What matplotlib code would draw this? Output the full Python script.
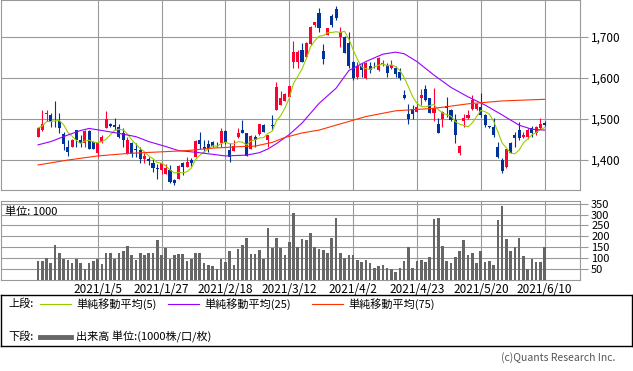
import numpy as np
import pandas as pd
import matplotlib
matplotlib.use("Agg")
import matplotlib.pyplot as plt
from matplotlib.lines import Line2D

plt.rcParams['font.family'] = ['Noto Sans CJK JP', 'DejaVu Sans']

# daily candles, 2020/12/14 .. 2021/6/10 (120 trading days)
opens = [1457, 1472, 1513, 1510, 1505, 1494, 1463, 1433, 1433, 1472,
         1450, 1441, 1471, 1445, 1418, 1445, 1479, 1488, 1486, 1481,
         1465, 1415, 1442, 1428, 1424, 1403, 1403, 1392, 1381, 1376,
         1367, 1376, 1351, 1355, 1394, 1384, 1400, 1408, 1449, 1433,
         1439, 1444, 1440, 1441, 1471, 1424, 1423, 1455, 1473, 1465,
         1427, 1457, 1463, 1485, 1449, 1486, 1522, 1534, 1545, 1554,
         1640, 1640, 1667, 1650, 1683, 1729, 1758, 1666, 1705, 1752,
         1767, 1701, 1701, 1686, 1640, 1603, 1628, 1599, 1628, 1632,
         1620, 1634, 1632, 1624, 1624, 1615, 1559, 1512, 1525, 1518,
         1550, 1572, 1550, 1514, 1489, 1499, 1531, 1522, 1497, 1416,
         1494, 1502, 1524, 1524, 1530, 1510, 1482, 1481, 1433, 1400,
         1382, 1441, 1461, 1473, 1455, 1455, 1479, 1467, 1477, 1491]
highs = [1480, 1522, 1522, 1514, 1544, 1514, 1469, 1449, 1452, 1473,
         1461, 1472, 1472, 1446, 1442, 1461, 1519, 1490, 1503, 1489,
         1477, 1457, 1443, 1441, 1431, 1416, 1408, 1402, 1390, 1393,
         1391, 1388, 1355, 1388, 1396, 1408, 1404, 1449, 1469, 1449,
         1448, 1447, 1444, 1477, 1473, 1441, 1449, 1477, 1498, 1466,
         1460, 1461, 1489, 1487, 1462, 1510, 1589, 1569, 1563, 1581,
         1690, 1668, 1685, 1687, 1726, 1737, 1770, 1682, 1721, 1756,
         1776, 1724, 1703, 1713, 1642, 1640, 1636, 1640, 1640, 1640,
         1650, 1644, 1636, 1644, 1628, 1624, 1571, 1536, 1534, 1538,
         1572, 1582, 1551, 1575, 1502, 1519, 1554, 1524, 1513, 1436,
         1512, 1522, 1559, 1539, 1563, 1512, 1483, 1502, 1445, 1404,
         1427, 1445, 1469, 1493, 1469, 1477, 1482, 1482, 1502, 1496]
lows = [1455, 1470, 1494, 1481, 1481, 1467, 1424, 1410, 1431, 1433,
        1433, 1433, 1427, 1427, 1408, 1441, 1478, 1480, 1472, 1454,
        1433, 1414, 1408, 1408, 1392, 1393, 1388, 1372, 1355, 1366,
        1365, 1343, 1338, 1354, 1363, 1383, 1386, 1407, 1428, 1420,
        1420, 1433, 1433, 1433, 1440, 1396, 1421, 1454, 1465, 1410,
        1426, 1433, 1461, 1469, 1433, 1473, 1521, 1533, 1543, 1553,
        1624, 1624, 1640, 1648, 1681, 1725, 1713, 1633, 1704, 1725,
        1741, 1676, 1660, 1624, 1595, 1598, 1602, 1597, 1612, 1624,
        1618, 1628, 1602, 1622, 1602, 1595, 1548, 1488, 1499, 1516,
        1535, 1545, 1514, 1494, 1466, 1480, 1504, 1496, 1441, 1412,
        1480, 1500, 1522, 1522, 1504, 1481, 1479, 1457, 1406, 1369,
        1381, 1416, 1433, 1449, 1453, 1452, 1457, 1461, 1476, 1484]
closes = [1478, 1488, 1515, 1494, 1504, 1479, 1439, 1420, 1450, 1450,
          1442, 1471, 1428, 1428, 1441, 1457, 1499, 1484, 1480, 1455,
          1449, 1449, 1415, 1424, 1402, 1411, 1398, 1381, 1379, 1392,
          1380, 1347, 1345, 1386, 1384, 1396, 1393, 1447, 1438, 1427,
          1428, 1435, 1439, 1471, 1445, 1408, 1435, 1465, 1465, 1410,
          1458, 1449, 1488, 1469, 1461, 1484, 1577, 1550, 1561, 1580,
          1664, 1664, 1640, 1686, 1725, 1737, 1721, 1647, 1721, 1729,
          1745, 1713, 1660, 1628, 1600, 1628, 1620, 1636, 1620, 1631,
          1648, 1636, 1613, 1632, 1610, 1599, 1551, 1500, 1512, 1530,
          1559, 1547, 1515, 1526, 1467, 1518, 1526, 1498, 1461, 1434,
          1502, 1510, 1546, 1537, 1510, 1486, 1481, 1461, 1408, 1373,
          1426, 1416, 1453, 1453, 1461, 1473, 1467, 1481, 1489, 1485]
volume = [88, 88, 103, 80, 160, 126, 95, 91, 77, 98,
          77, 49, 77, 88, 95, 72, 126, 126, 98, 126,
          132, 154, 114, 91, 126, 114, 126, 126, 183, 114,
          145, 98, 114, 117, 117, 86, 98, 123, 123, 80,
          69, 62, 49, 98, 83, 132, 68, 142, 160, 191,
          118, 118, 137, 98, 237, 145, 191, 145, 114, 172,
          308, 149, 188, 183, 215, 149, 142, 137, 126, 191,
          284, 126, 103, 114, 114, 91, 83, 91, 77, 54,
          63, 68, 54, 49, 37, 54, 88, 149, 54, 88,
          93, 83, 105, 281, 284, 157, 88, 77, 105, 133,
          183, 114, 123, 77, 133, 83, 88, 71, 276, 340,
          188, 133, 151, 193, 108, 52, 96, 83, 83, 149]

# moving averages (day index, value)
ma25_day = [0, 3, 7, 10, 12, 15, 19, 23, 26, 30, 33, 37, 41, 44, 49, 52, 54,
            56, 59, 62, 66, 70, 73, 77, 81, 84, 86, 89, 93, 97, 101, 105,
            109, 113, 116, 119]
ma25_val = [1437, 1445, 1461, 1472, 1477, 1472, 1465, 1457, 1445, 1433, 1423,
            1419, 1414, 1410, 1412, 1418, 1427, 1440, 1462, 1490, 1538, 1575,
            1618, 1640, 1658, 1663, 1659, 1640, 1607, 1577, 1554, 1534, 1510,
            1485, 1475, 1473]
ma75_day = [0, 7, 14, 21, 29, 35, 41, 48, 51, 55, 58, 62, 66, 70, 77, 84,
            93, 101, 109, 119]
ma75_val = [1388, 1400, 1410, 1416, 1420, 1423, 1429, 1433, 1434, 1443, 1455,
            1466, 1473, 1485, 1506, 1520, 1526, 1537, 1544, 1548]

tick_day = [14, 29, 44, 59, 74, 89, 104, 119]
tick_labels = ["2021/1/5", "2021/1/27", "2021/2/18", "2021/3/12",
               "2021/4/2", "2021/4/23", "2021/5/20", "2021/6/10"]

UP = "#ff0033"
DOWN = "#003399"
GRID = "#999999"

df = pd.DataFrame({"o": opens, "h": highs, "l": lows, "c": closes, "v": volume})
df["ma5"] = df["c"].rolling(5, min_periods=1).mean()
x = np.arange(len(df))
up = df["c"] >= df["o"]
col = np.where(up, UP, DOWN)

W, H = 633, 371
fig = plt.figure(figsize=(W / 100, H / 100), dpi=100)


def box(l, t, r, b):
    return [l / W, 1 - b / H, (r - l) / W, (b - t) / H]


ax = fig.add_axes(box(1, 0, 580, 190))
axv = fig.add_axes(box(1, 201, 580, 280))
xlim = (-8.7, 127.3)

# price panel
ax.vlines(x, df["l"], df["h"], colors=col, lw=0.8, zorder=3)
body_lo = np.minimum(df["o"], df["c"])
body_h = np.maximum(np.abs(df["c"] - df["o"]), 1.2)
ax.bar(x, body_h, bottom=body_lo, width=0.72, color=col, lw=0, zorder=4)
ax.plot(x, df["ma5"], color="#99cc00", lw=0.8, zorder=5)
ax.plot(ma25_day, ma25_val, color="#9900ff", lw=0.8, zorder=5)
ax.plot(ma75_day, ma75_val, color="#ff3300", lw=0.8, zorder=5)
ax.set_xlim(*xlim)
ax.set_ylim(1327, 1790)
ax.set_xticks(tick_day)
ax.set_yticks([1400, 1500, 1600, 1700])
ax.yaxis.set_major_formatter(matplotlib.ticker.FuncFormatter(lambda v, p: f"{v:,.0f}"))
ax.tick_params(axis="x", length=0, labelbottom=False)
ax.tick_params(axis="y", left=False, right=True, labelleft=False, labelright=True,
               length=6, width=0.8, color=GRID, labelsize=8.5, pad=2)
ax.grid(True, color=GRID, lw=0.8)

# volume panel
axv.bar(x, df["v"], width=0.62, color="#666666", zorder=3)
axv.set_xlim(*xlim)
axv.set_ylim(0, 362)
axv.set_xticks(tick_day)
axv.set_xticklabels(tick_labels)
axv.set_yticks([50, 100, 150, 200, 250, 300, 350])
axv.tick_params(axis="x", length=0, labelsize=8.5, pad=2)
axv.tick_params(axis="y", left=False, right=True, labelleft=False, labelright=True,
                length=6, width=0.8, color=GRID, labelsize=8, pad=2)
axv.grid(True, color=GRID, lw=0.8)
axv.text(4 / 579, 0.93, "単位: 1000", transform=axv.transAxes, fontsize=8,
         va="top", ha="left")

for a in (ax, axv):
    a.set_axisbelow(True)
    for s in a.spines.values():
        s.set_color(GRID)
        s.set_linewidth(0.8)

# legend box
leg = fig.add_axes(box(0.5, 295, 632, 346))
leg.set_xlim(0, 632)
leg.set_ylim(51, 0)
leg.set_xticks([])
leg.set_yticks([])
for s in leg.spines.values():
    s.set_color("black")
    s.set_linewidth(1)
leg.patch.set_alpha(0)
fs = 8
leg.text(8, 9, "上段:", fontsize=fs, va="center")
leg.text(8, 42, "下段:", fontsize=fs, va="center")
entries = [(40, "#99cc00", "単純移動平均(5)"),
           (168, "#9900ff", "単純移動平均(25)"),
           (312, "#ff3300", "単純移動平均(75)")]
for x0, c, t in entries:
    leg.add_line(Line2D([x0, x0 + 31], [9, 9], color=c, lw=0.8))
    leg.text(x0 + 36, 9, t, fontsize=fs, va="center")
leg.add_line(Line2D([40, 71], [42, 42], color="#666666", lw=3.5))
leg.text(76, 42, "出来高 単位:(1000株/口/枚)", fontsize=fs, va="center")

fig.text(615 / W, 1 - 358 / H, "(c)Quants Research Inc.", fontsize=7.5,
         color="#555555", ha="right", va="center")

fig.savefig("out.png", dpi=100)
